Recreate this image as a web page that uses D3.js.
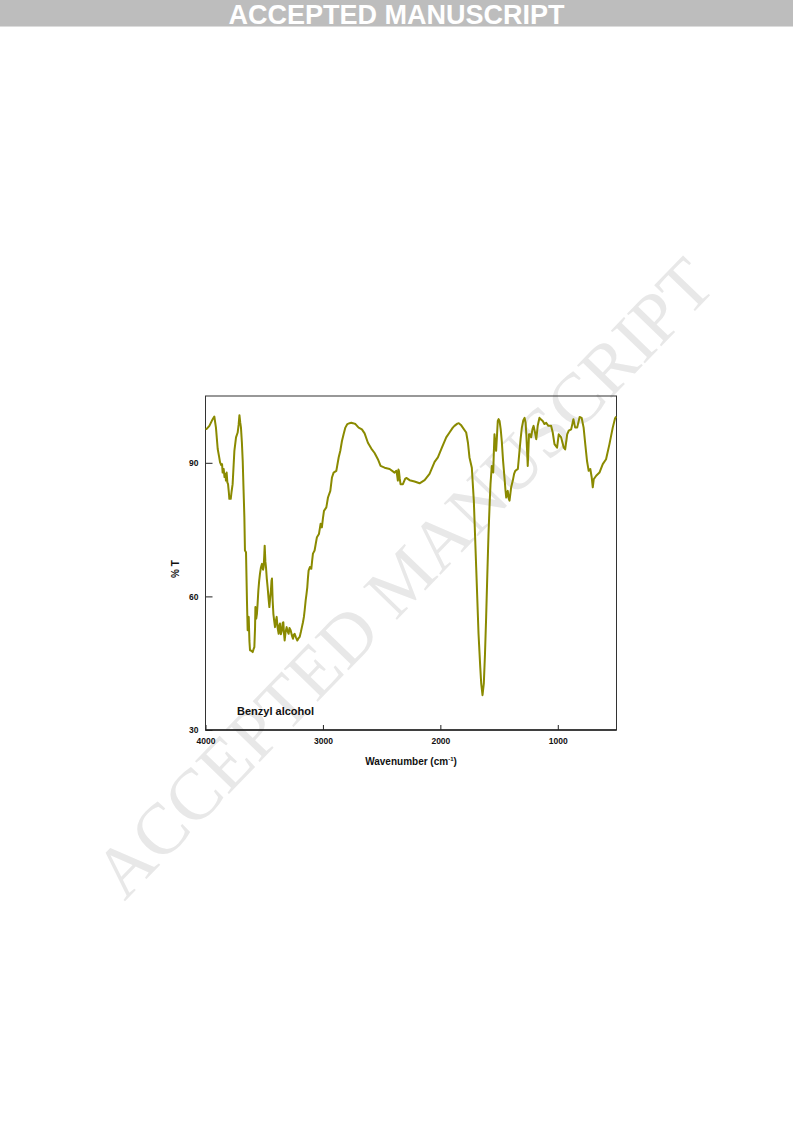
<!DOCTYPE html>
<html>
<head>
<meta charset="utf-8">
<script src="https://cdn.jsdelivr.net/npm/d3@7"></script>
<style>
  html, body { margin: 0; padding: 0; background: #ffffff; }
  svg { display: block; }
</style>
</head>
<body>
<script>
// ---- Data ----
const wavenumber = [
  4000,3990,3967,3939,3925,3911,3896,3885,3876,3866,3859,3854,3845,3838,3830,3826,3820,3814,3808,3800,
  3797,3785,3778,3769,3754,3740,3726,3718,3711,3704,3698,3690,3683,3676,3669,3664,3655,3647,3641,3636,
  3632,3626,3621,3610,3598,3590,3584,3578,3575,3568,3562,3556,3550,3543,3536,3528,3519,3510,3505,3500,
  3496,3490,3485,3478,3471,3463,3456,3450,3443,3438,3434,3428,3422,3415,3408,3400,3394,3386,3377,3371,
  3366,3358,3349,3343,3337,3332,3326,3318,3309,3303,3292,3285,3275,3264,3255,3248,3241,3230,3218,3208,
  3198,3188,3179,3170,3162,3155,3147,3140,3133,3128,3122,3111,3099,3092,3085,3071,3060,3051,3034,3020,
  3009,3000,2991,2971,2957,2937,2923,2909,2886,2866,2852,2838,2824,2809,2792,2773,2758,2745,2723,2696,
  2668,2645,2617,2588,2560,2532,2509,2475,2432,2390,2375,2368,2362,2357,2353,2346,2339,2319,2300,2290,
  2262,2220,2177,2134,2092,2049,2021,1987,1950,1922,1894,1880,1855,1843,1825,1809,1780,1765,1752,1732,
  1715,1695,1675,1660,1652,1641,1630,1620,1610,1600,1590,1580,1573,1562,1556,1550,1545,1539,1532,1525,
  1518,1511,1504,1496,1486,1477,1466,1454,1446,1439,1432,1426,1418,1411,1404,1397,1383,1372,1362,1351,
  1340,1326,1316,1306,1294,1283,1274,1268,1262,1256,1250,1245,1236,1227,1216,1206,1194,1183,1171,1156,
  1142,1128,1114,1099,1080,1057,1043,1028,1006,992,971,960,949,937,920,907,886,867,852,835,
  814,797,780,766,751,737,723,711,702,694,673,645,617,589,560,532,512,502
];
const transmittance = [
  97.6,97.6,98.3,99.8,100.4,97.9,93.1,91.5,90.1,89.5,89.7,87.8,88.6,86.8,87.5,86.0,87.8,85.6,85.2,83.0,
  81.9,81.9,83.5,85.2,92.7,95.7,96.8,98.5,100.7,99.0,97.9,94.5,90.4,84.0,77.8,70.3,69.9,59.1,52.4,54.8,
  55.4,50.0,47.9,47.8,47.5,48.2,48.6,53.0,57.6,55.0,56.1,58.5,61.3,63.5,65.1,66.5,67.3,66.0,66.6,69.0,
  71.4,67.8,66.6,64.0,62.1,59.5,57.6,59.5,61.3,63.5,64.0,59.0,56.1,54.5,53.1,54.6,55.4,53.0,51.6,53.5,
  53.9,51.5,52.4,54.0,54.2,51.8,50.1,52.0,53.1,52.3,51.6,52.9,52.4,51.2,50.5,51.4,51.6,50.8,50.1,50.6,
  50.9,52.0,53.1,54.2,55.4,57.0,59.1,60.5,62.1,64.0,65.8,66.6,66.2,68.0,69.6,70.3,72.0,73.3,74.0,76.3,
  75.5,77.5,79.2,80.0,82.2,83.7,86.7,87.8,88.2,91.2,92.7,94.9,96.4,97.9,98.7,98.9,99.0,98.9,98.7,97.9,
  97.5,96.6,94.5,93.2,92.2,90.8,89.3,88.9,88.6,87.8,88.2,87.2,86.0,88.5,88.2,86.5,85.2,85.2,86.4,86.6,
  86.1,85.8,85.4,86.1,87.5,90.2,91.2,93.4,95.7,96.8,97.9,98.3,98.8,98.9,98.5,97.9,96.8,94.5,91.2,88.9,
  81.5,66.6,51.6,44.0,40.4,37.8,40.4,47.0,55.4,65.0,74.0,81.0,85.2,89.3,88.5,87.8,92.0,96.4,94.0,92.7,
  96.0,99.4,99.8,99.4,97.5,94.9,90.5,86.7,84.0,82.2,83.0,83.7,82.0,81.5,83.0,84.5,86.0,87.5,88.2,88.4,
  88.6,92.7,95.5,97.9,99.5,100.1,99.0,96.4,93.0,89.3,93.0,96.4,96.4,95.7,97.5,98.3,96.8,95.3,98.3,100.1,
  99.7,99.4,98.7,99.0,98.3,98.3,96.8,94.2,93.4,96.4,95.7,94.5,93.4,93.0,96.4,97.2,97.5,99.8,97.9,97.9,
  100.3,100.1,97.9,94.2,90.4,88.2,88.6,86.7,84.5,86.3,87.1,87.8,89.7,90.8,94.2,97.9,100.0,100.4
];
const xTickValues = [4000, 3000, 2000, 1000];
const yTickValues = [30, 60, 90];
const xDomain = [4000, 500];
const yDomain = [30, 105];
const sampleLabel = "Benzyl alcohol";
const xTitle = "Wavenumber (cm";
const xTitleSup = "-1";
const yTitle = "% T";
const bannerText = "ACCEPTED MANUSCRIPT";
const watermarkText = "ACCEPTED MANUSCRIPT";

// ---- Layout ----
const W = 793, H = 1121;
const plot = { left: 205.5, right: 616.5, top: 396, bottom: 730 };

const svg = d3.select("body").append("svg")
  .attr("width", W).attr("height", H)
  .attr("viewBox", `0 0 ${W} ${H}`);

svg.append("rect").attr("x", 0).attr("y", 0).attr("width", W).attr("height", H).attr("fill", "#ffffff");

// Watermark (behind the chart)
svg.append("text")
  .attr("transform", "translate(404,578) rotate(-46)")
  .attr("text-anchor", "middle")
  .attr("dominant-baseline", "central")
  .attr("font-family", "'Liberation Serif', 'DejaVu Serif', serif")
  .attr("font-size", 72)
  .attr("fill", "#e8e8e8")
  .text(watermarkText);

// Banner
svg.append("rect").attr("x", 0).attr("y", 0).attr("width", W).attr("height", 26).attr("fill", "#bdbdbd");
svg.append("rect").attr("x", 0).attr("y", 26).attr("width", W).attr("height", 1).attr("fill", "#dcdcdc");
svg.append("text")
  .attr("x", 396.5).attr("y", 23.5)
  .attr("text-anchor", "middle")
  .attr("font-family", "'Liberation Sans', Arial, sans-serif")
  .attr("font-weight", "bold")
  .attr("font-size", 27)
  .attr("fill", "#ffffff")
  .text(bannerText);

// Scales
const x = d3.scaleLinear().domain(xDomain).range([plot.left, plot.right]);
const y = d3.scaleLinear().domain(yDomain).range([plot.bottom, plot.top]);

// Axes
const fontFam = "'Liberation Sans', Arial, sans-serif";
const gx = svg.append("g")
  .attr("transform", `translate(0,${plot.bottom})`)
  .call(d3.axisBottom(x).tickValues(xTickValues).tickSizeInner(-5).tickSizeOuter(0).tickPadding(8).tickFormat(d3.format("d")));
const gy = svg.append("g")
  .attr("transform", `translate(${plot.left},0)`)
  .call(d3.axisLeft(y).tickValues(yTickValues).tickSizeInner(-7).tickSizeOuter(0).tickPadding(7).tickFormat(d3.format("d")));

[gx, gy].forEach(g => {
  g.select(".domain").remove();
  g.selectAll(".tick line").attr("stroke", "#222").attr("stroke-width", 1);
  g.selectAll(".tick text")
    .attr("font-family", fontFam)
    .attr("font-weight", "bold")
    .attr("font-size", 8.5)
    .attr("fill", "#111");
});

// Frame
svg.append("rect")
  .attr("x", plot.left).attr("y", plot.top)
  .attr("width", plot.right - plot.left).attr("height", plot.bottom - plot.top)
  .attr("fill", "none").attr("stroke", "#333").attr("stroke-width", 1);
svg.append("line")
  .attr("x1", plot.left).attr("x2", plot.right)
  .attr("y1", plot.bottom).attr("y2", plot.bottom)
  .attr("stroke", "#222").attr("stroke-width", 1.6);

// Spectrum line
const data = wavenumber.map((w, i) => ({ w, t: transmittance[i] }));
svg.append("path")
  .datum(data)
  .attr("fill", "none")
  .attr("stroke", "#8a8a00")
  .attr("stroke-width", 2)
  .attr("stroke-linejoin", "round")
  .attr("d", d3.line().x(d => x(d.w)).y(d => y(d.t)));

// Sample label
svg.append("text")
  .attr("x", 237).attr("y", 715)
  .attr("font-family", fontFam)
  .attr("font-weight", "bold")
  .attr("font-size", 11)
  .attr("fill", "#111")
  .text(sampleLabel);

// Axis titles
const xt = svg.append("text")
  .attr("x", (plot.left + plot.right) / 2).attr("y", 765)
  .attr("text-anchor", "middle")
  .attr("font-family", fontFam)
  .attr("font-weight", "bold")
  .attr("font-size", 10)
  .attr("fill", "#111");
xt.append("tspan").text(xTitle);
xt.append("tspan").attr("dy", -4).attr("font-size", 6).text(xTitleSup);
xt.append("tspan").attr("dy", 4).text(")");

svg.append("text")
  .attr("transform", "translate(179,569) rotate(-90)")
  .attr("text-anchor", "middle")
  .attr("font-family", fontFam)
  .attr("font-weight", "bold")
  .attr("font-size", 10)
  .attr("fill", "#111")
  .text(yTitle);
</script>
</body>
</html>
